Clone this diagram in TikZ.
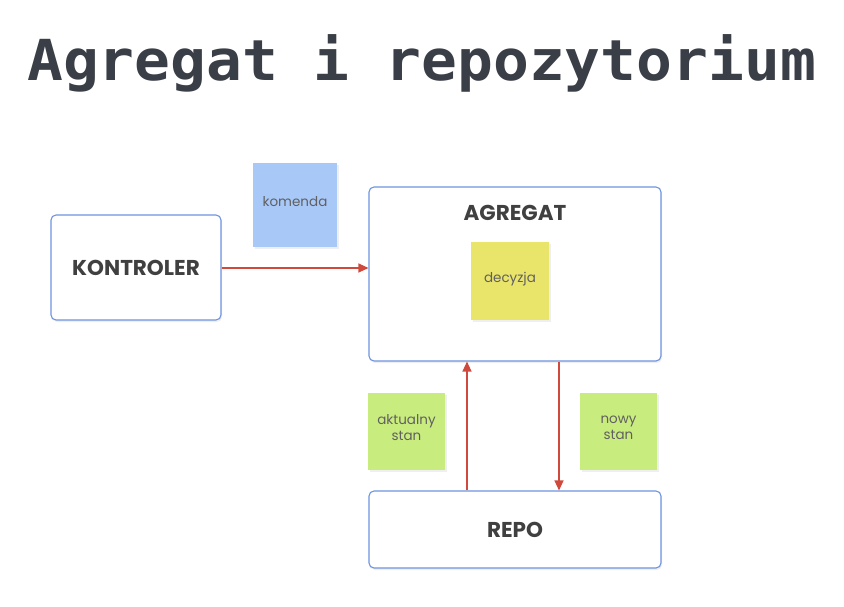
\documentclass[tikz,border=0pt]{standalone}
\usepackage{fontspec}
\setmainfont{Poppins}
\newfontfamily\titlefont{DejaVu Sans Mono}
\usetikzlibrary{arrows.meta,shadows}
\definecolor{boxblue}{HTML}{6F93DF}
\definecolor{arrred}{HTML}{CF4A3C}
\definecolor{stickblue}{HTML}{A8C8F8}
\definecolor{stickyel}{HTML}{E9E56A}
\definecolor{stickgreen}{HTML}{C9EC7E}
\definecolor{titlegray}{HTML}{3A3E46}
\definecolor{labgray}{HTML}{404040}
\definecolor{stickgray}{HTML}{606060}
\tikzset{
  mainbox/.style={draw=boxblue, line width=1.1pt, fill=white, rounded corners=5pt,
    drop shadow={shadow xshift=1pt, shadow yshift=-2pt, opacity=0.12}},
  sticky/.style={draw=none, minimum width=#1, minimum height=#1, inner sep=0pt,
    drop shadow={shadow xshift=2pt, shadow yshift=-2pt, opacity=0.12}},
  stickytext/.style={font=\fontsize{13.5}{16}\selectfont, text=stickgray, align=center},
  boxlabel/.style={font=\fontsize{21.5}{24}\selectfont\bfseries, text=labgray},
  flow/.style={draw=arrred, line width=1.2pt, -{Triangle[length=10pt,width=9pt]}}
}
\begin{document}
\begin{tikzpicture}[x=1pt,y=-1pt]
\useasboundingbox[fill=white] (0,0) rectangle (844,606);
\node[anchor=base west, inner sep=0pt, text=titlegray, font=\titlefont\bfseries\fontsize{56.5}{60}\selectfont] (title) at (27,80) {\scalebox{1.054}[1]{Agregat i repozytorium}};

\node[mainbox, minimum width=170pt, minimum height=105pt] (kontroler) at (136,267.5) {};
\node[boxlabel] (kontrolerlab) at (kontroler.center) {KONTROLER};

\node[mainbox, minimum width=292pt, minimum height=174pt] (agregat) at (515,274) {};
\node[boxlabel] (agregatlab) at (515,213) {AGREGAT};

\node[mainbox, minimum width=292pt, minimum height=77pt] (repo) at (515,529.5) {};
\node[boxlabel] (repolab) at (repo.center) {REPO};

\node[sticky=84pt, fill=stickblue] (komenda) at (295,205) {};
\node[stickytext] (komendalab) at (295,202) {komenda};
\node[sticky=78pt, fill=stickyel] (decyzja) at (510,280.5) {};
\node[stickytext] (decyzjalab) at (510,279) {decyzja};
\node[sticky=77pt, fill=stickgreen] (aktualny) at (406.5,431) {};
\node[stickytext] (aktualnylab) at (406.5,428) {aktualny\\stan};
\node[sticky=77pt, fill=stickgreen] (nowy) at (618.5,431) {};
\node[stickytext] (nowylab) at (618.5,428) {nowy\\stan};

\draw[flow] (kontroler.east |- 0,268) -- (agregat.west |- 0,268);
\draw[flow] (repo.north -| 467,0) -- (agregat.south -| 467,0);
\draw[flow] (agregat.south -| 559,0) -- (repo.north -| 559,0);
\end{tikzpicture}
\end{document}
